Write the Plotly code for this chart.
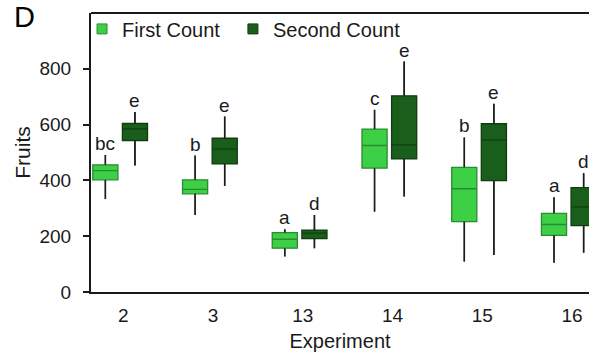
import plotly.graph_objects as go

experiments = ["2", "3", "13", "14", "15", "16"]

# First Count
first_low = [333, 276, 127, 288, 109, 105]
first_q1 = [402, 352, 157, 444, 252, 203]
first_med = [435, 368, 189, 525, 370, 242]
first_q3 = [456, 402, 213, 584, 447, 282]
first_high = [491, 489, 225, 653, 554, 340]
first_letters = ["bc", "b", "a", "c", "b", "a"]

# Second Count
second_low = [453, 380, 157, 342, 133, 141]
second_q1 = [543, 459, 191, 477, 399, 238]
second_med = [585, 512, 211, 527, 544, 305]
second_q3 = [604, 551, 222, 703, 603, 374]
second_high = [645, 629, 276, 826, 675, 426]
second_letters = ["e", "e", "d", "e", "e", "d"]

FONT = "Liberation Sans, Arial, sans-serif"
TXT = "#1a1a1a"
c1_fill, c1_line = "#3dcf45", "#2a8c30"
c2_fill, c2_line = "#1a5e1c", "#113c12"

idx = list(range(len(experiments)))
x1 = [i - 0.20 for i in idx]
x2 = [i + 0.13 for i in idx]
BW = 0.28

fig = go.Figure()

def add_group(xs, low, q1, med, q3, high, fill, line, name, legend):
    fig.add_trace(go.Box(
        x=xs, q1=q1, median=med, q3=q3, lowerfence=low, upperfence=high,
        width=BW, fillcolor=fill, line=dict(color=line, width=1.3),
        whiskerwidth=0, showlegend=False, hoverinfo="skip", boxpoints=False,
    ))
    wx, wy = [], []
    for x, lo, a, b, hi in zip(xs, low, q1, q3, high):
        wx += [x, x, None, x, x, None]
        wy += [lo, a, None, b, hi, None]
    fig.add_trace(go.Scatter(x=wx, y=wy, mode="lines",
                             line=dict(color="#1c1c1c", width=1.6),
                             showlegend=False, hoverinfo="skip"))
    fig.add_trace(go.Scatter(x=[None], y=[None], mode="markers", name=name,
                             legend=legend,
                             marker=dict(symbol="square", size=10, color=fill,
                                         line=dict(color=line, width=1))))

add_group(x1, first_low, first_q1, first_med, first_q3, first_high,
          c1_fill, c1_line, "First Count", "legend")
add_group(x2, second_low, second_q1, second_med, second_q3, second_high,
          c2_fill, c2_line, "Second Count", "legend2")

annotations = []
for xs, highs, letters in ((x1, first_high, first_letters),
                           (x2, second_high, second_letters)):
    for x, h, t in zip(xs, highs, letters):
        annotations.append(dict(x=x, y=h, text=t, showarrow=False,
                                xref="x", yref="y", yanchor="bottom",
                                yshift=-1, font=dict(family=FONT, size=19, color=TXT)))
annotations.append(dict(x=0, y=1, xref="paper", yref="paper", text="D",
                        showarrow=False, xanchor="left", yanchor="top",
                        xshift=-91 + 12, yshift=14,
                        font=dict(family=FONT, size=29, color="black")))

legend_common = dict(y=0.943, xanchor="left", yanchor="middle",
                     font=dict(family=FONT, size=20, color=TXT),
                     bgcolor="rgba(0,0,0,0)", itemclick=False, itemdoubleclick=False)

fig.update_layout(
    width=589, height=352,
    margin=dict(l=91, r=0, t=13, b=60),
    paper_bgcolor="white", plot_bgcolor="white",
    font=dict(family=FONT, color=TXT, size=19),
    annotations=annotations,
    shapes=[dict(type="line", xref="paper", yref="paper", x0=0, x1=1, y0=1, y1=1,
                 line=dict(color="#1a1a1a", width=2))],
    legend=dict(x=-0.018, **legend_common),
    legend2=dict(x=0.285, **legend_common),
    xaxis=dict(range=[-0.36, 5.19], tickvals=idx, ticktext=experiments,
               showline=True, linecolor="#1a1a1a", linewidth=2, ticks="",
               showgrid=False, zeroline=False, ticklabelstandoff=5,
               tickfont=dict(family=FONT, size=19, color=TXT),
               title=dict(text="Experiment", font=dict(family=FONT, size=20, color=TXT),
                          standoff=10)),
    yaxis=dict(range=[0, 1000], tickvals=[0, 200, 400, 600, 800],
               showline=True, linecolor="#1a1a1a", linewidth=2,
               ticks="outside", ticklen=6, tickwidth=2, tickcolor="#1a1a1a",
               showgrid=False, zeroline=False, ticklabelstandoff=8,
               tickfont=dict(family=FONT, size=19, color=TXT),
               title=dict(text="Fruits", font=dict(family=FONT, size=21, color=TXT),
                          standoff=3)),
)

fig.write_html("out.html")
